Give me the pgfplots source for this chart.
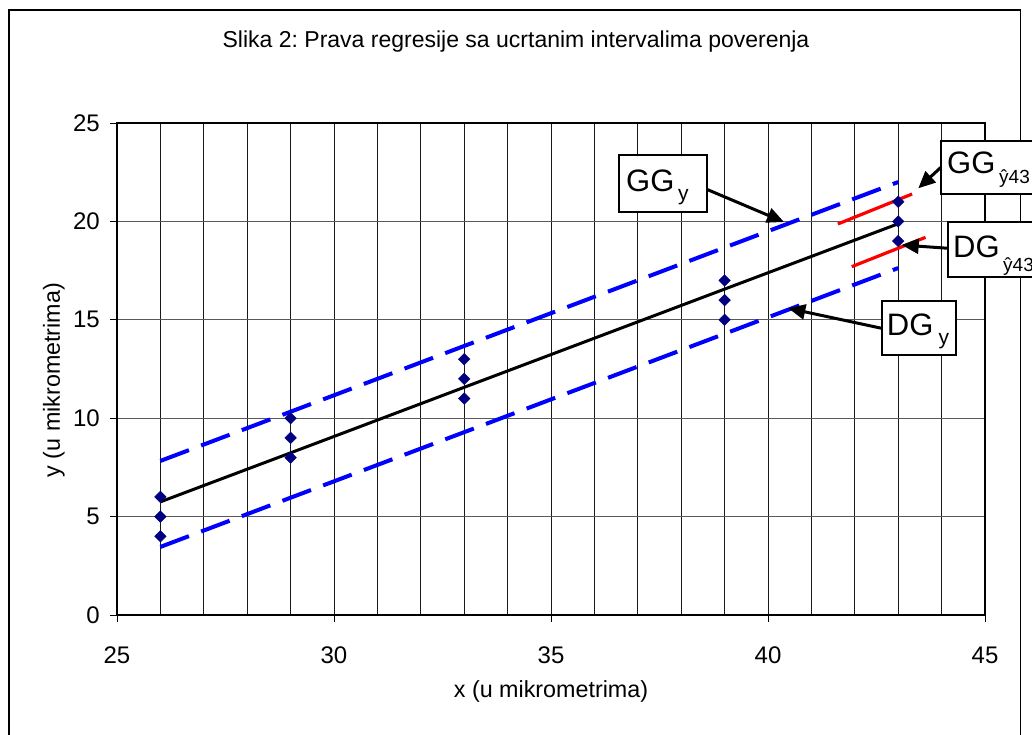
\documentclass[border=0pt]{standalone}
\usepackage{fontspec}
\setmainfont{Liberation Sans}
\usepackage{pgfplots}
\pgfplotsset{compat=1.18}
\usetikzlibrary{arrows.meta}
\definecolor{navyd}{RGB}{0,0,128}
\definecolor{pureblue}{RGB}{0,0,255}
\definecolor{purered}{RGB}{255,0,0}
\newcommand{\fs}[1]{\fontsize{#1bp}{#1bp}\selectfont}
\frenchspacing

\begin{document}
\begin{tikzpicture}
\useasboundingbox (0,0) rectangle (1032bp,-735bp);
\clip (0,0) rectangle (1032bp,-735bp);
\fill[white] (0,0) rectangle (1032bp,-735bp);
\draw[line width=1.5bp] (9bp,-10bp) rectangle (1020.5bp,-760bp);
\begin{axis}[
  at={(117bp,-615bp)}, anchor=south west,
  scale only axis, width=868bp, height=492bp,
  xmin=25, xmax=45, ymin=0, ymax=25,
  xtick={25,30,35,40,45}, ytick={0,5,10,15,20,25},
  minor xtick={26,27,28,29,31,32,33,34,36,37,38,39,41,42,43,44},
  xmajorgrids, xminorgrids, ymajorgrids,
  major x grid style={black!90, line width=0.9bp},
  minor x grid style={black!90, line width=0.9bp},
  major y grid style={black!65, line width=1.3bp},
  tick pos=left, tick align=outside,
  major tick length=7bp, minor tick length=0pt,
  major tick style={black, line width=1bp},
  axis line style={black, line width=1.6bp},
  /pgf/number format/assume math mode=true,
  xticklabel style={font=\fs{24}, inner sep=0pt, anchor=north, yshift=-25bp},
  yticklabel style={font=\fs{24}, inner sep=0pt, anchor=east, xshift=-10bp},
  xlabel={x (u mikrometrima)},
  ylabel={y (u mikrometrima)},
  x label style={font=\fs{23.3}, inner sep=0pt, anchor=base, at={(axis description cs:0.5,-0.1667)}},
  y label style={font=\fs{23.3}, inner sep=0pt, anchor=base, rotate=0, at={(axis description cs:-0.0657,0.4776)}},
  title={Slika 2: Prava regresije sa ucrtanim intervalima poverenja},
  title style={font=\fs{23}, inner sep=0pt, anchor=base, at={(axis description cs:0.4597,1.1417)}},
]
\addplot[pureblue, line width=4bp, dash pattern=on 30.5bp off 13bp] coordinates {
  (26,7.83) (29,10.33) (33,13.67) (39,18.67) (43,22.0)};
\addplot[pureblue, line width=4bp, dash pattern=on 30.5bp off 13bp] coordinates {
  (26,3.46) (29,5.96) (33,9.29) (39,14.29) (43,17.63)};
\addplot[black, line width=3bp] coordinates {
  (26,5.75) (29,8.24) (33,11.57) (39,16.56) (43,19.88)};
\addplot[purered, line width=3.2bp] coordinates {(41.61,19.87) (43.32,21.39)};
\addplot[purered, line width=3.2bp] coordinates {(41.93,17.70) (43.63,19.19)};
\addplot[only marks, mark=square*, mark size=4.1bp,
  mark options={rotate=45, fill=navyd, draw=navyd}] coordinates {
  (26,4) (26,5) (26,6)
  (29,8) (29,9) (29,10)
  (33,11) (33,12) (33,13)
  (39,15) (39,16) (39,17)
  (43,19) (43,20) (43,21)};
\end{axis}
\begin{scope}[x=1bp,y=-1bp]
  \tikzset{arr/.style={black, line width=3bp, -{Triangle[length=17bp,width=15bp]}}}
  \draw[arr] (706.7,189.3) -- (784,222);
  \draw[arr] (940.7,167.5) -- (918.3,188.3);
  \draw[arr] (948.3,248.3) -- (901.7,245);
  \draw[arr] (881.7,328.3) -- (788.3,308.3);
  \draw[fill=white, line width=2bp] (619.3,155) rectangle (706.7,211.7);
  \draw[fill=white, line width=2bp] (940.7,140.5) rectangle (1036,194.3);
  \draw[fill=white, line width=2bp] (948.3,222.3) rectangle (1036,276.7);
  \draw[fill=white, line width=2bp] (881.7,301) rectangle (955.7,354.5);
  \node[anchor=base west, inner sep=0pt, font=\fs{31}] at (626,191.5) {GG};
  \node[anchor=base west, inner sep=0pt, font=\fs{21}] at (678,200.5) {y};
  \node[anchor=base west, inner sep=0pt, font=\fs{31}] at (947,173) {GG};
  \node[anchor=base west, inner sep=0pt, font=\fs{19}] at (999,183) {ŷ43};
  \node[anchor=base west, inner sep=0pt, font=\fs{31}] at (953,257) {DG};
  \node[anchor=base west, inner sep=0pt, font=\fs{19}] at (1003,271) {ŷ43};
  \node[anchor=base west, inner sep=0pt, font=\fs{31}] at (886.7,335.7) {DG};
  \node[anchor=base west, inner sep=0pt, font=\fs{21}] at (938.3,344) {y};
\end{scope}
\end{tikzpicture}
\end{document}
